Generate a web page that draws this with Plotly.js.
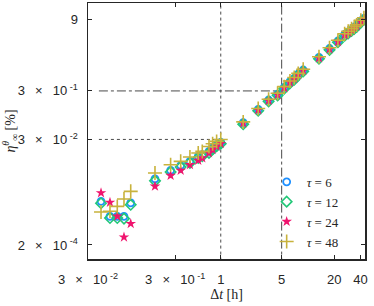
<!DOCTYPE html>
<html>
<head>
<meta charset="utf-8">
<script src="https://cdn.plot.ly/plotly-3.0.1.min.js"></script>
<style>html,body{margin:0;padding:0;background:#fff;}#chart{width:374px;height:306px;}</style>
</head>
<body>
<div id="chart"></div>
<script>
// Δt [h]
var dtLow = [0.0423, 0.0536, 0.065, 0.0776, 0.0927];
var dtMid = [0.176, 0.266, 0.347, 0.443, 0.552, 0.614, 0.733, 0.807, 0.897, 1.0];
var dtHigh = [1.81, 2.69, 3.54, 4.49, 5.35, 6.22, 6.97, 7.74, 8.83, 13.4, 17.7, 22.1, 26.4, 29.0, 31.7, 34.0, 36.2, 40.5, 43.9];

// η (%) per τ
var tau6Low  = [1.59e-3, 7.8e-4, 7.8e-4, 7.8e-4, 1.47e-3];
var tau12Low = [1.45e-3, 7.2e-4, 7.2e-4, 7.0e-4, 1.35e-3];
var tau24Low = [2.37e-3, 1.51e-3, 7.8e-4, 2.9e-4, 5.5e-4];
var tau48Low = [9.6e-4, 9.9e-4, 1.25e-3, 1.78e-3, 2.55e-3];

var tau6Mid  = [4.6e-3, 6.9e-3, 8.7e-3, 1.06e-2, 1.34e-2, 1.45e-2, 1.70e-2, 2.0e-2, 2.33e-2, 2.6e-2];
var tau12Mid = [4.2e-3, 6.4e-3, 8.1e-3, 9.8e-3, 1.24e-2, 1.35e-2, 1.58e-2, 1.86e-2, 2.17e-2, 2.45e-2];
var tau24Mid = [3.24e-3, 5.4e-3, 6.9e-3, 9.0e-3, 1.11e-2, 1.24e-2, 1.57e-2, 1.84e-2, 2.15e-2, 2.45e-2];
var tau48Mid = [6.1e-3, 9.0e-3, 1.06e-2, 1.30e-2, 1.57e-2, 1.70e-2, 2.15e-2, 2.45e-2, 2.73e-2, 3.0e-2];

var tau6High  = [0.0664, 0.125, 0.195, 0.259, 0.356, 0.465, 0.547, 0.67, 0.81, 1.47, 2.25, 3.21, 4.38, 4.92, 5.54, 6.1, 6.7, 8.3, 9.4];
var tau12High = [0.0620, 0.117, 0.183, 0.243, 0.334, 0.436, 0.513, 0.63, 0.76, 1.38, 2.11, 3.02, 4.12, 4.62, 5.21, 5.73, 6.3, 7.8, 8.8];
var tau24High = [0.0650, 0.122, 0.190, 0.252, 0.347, 0.453, 0.533, 0.65, 0.79, 1.43, 2.19, 3.12, 4.26, 4.79, 5.39, 5.93, 6.5, 8.1, 9.1];
var tau48High = [0.0690, 0.130, 0.202, 0.268, 0.368, 0.481, 0.566, 0.69, 0.84, 1.52, 2.33, 3.32, 4.53, 5.09, 5.73, 6.3, 6.9, 8.6, 9.7];

var seriesNames = ['<i>τ</i> = 6', '<i>τ</i> = 12', '<i>τ</i> = 24', '<i>τ</i> = 48'];

// reference lines
var refDotX = 1, refDotY = 0.03;
var refDashX = 5, refDashY = 0.3;
var refStartX = 0.04;

var xTickVals = [0.03, 0.3, 1, 5, 20, 40];
var xTickText = ['3 \u2002× \u200210<sup> -2</sup>', '3 \u2002× \u200210<sup> -1</sup>', '1', '5', '20', '40'];
var yTickVals = [2e-4, 3e-2, 3e-1, 9];
var yTickText = ['2 \u2002× \u200210<sup> -4</sup>', '3 \u2002× \u200210<sup> -2</sup>', '3 \u2002× \u200210<sup> -1</sup>', '9'];

var dt = dtLow.concat(dtMid, dtHigh);
var tau6 = tau6Low.concat(tau6Mid, tau6High);
var tau12 = tau12Low.concat(tau12Mid, tau12High);
var tau24 = tau24Low.concat(tau24Mid, tau24High);
var tau48 = tau48Low.concat(tau48Mid, tau48High);

var refColor = '#4a4a4a';
var traces = [
  {x:[refStartX, refDotX], y:[refDotY, refDotY], mode:'lines', line:{color:refColor, width:1, dash:'dot'}, showlegend:false, hoverinfo:'skip'},
  {x:[refDotX, refDotX], y:[1e-6, 1e3], mode:'lines', line:{color:refColor, width:1, dash:'dot'}, showlegend:false, hoverinfo:'skip'},
  {x:[refStartX, refDashX], y:[refDashY, refDashY], mode:'lines', line:{color:refColor, width:1, dash:'dashdot'}, showlegend:false, hoverinfo:'skip'},
  {x:[refDashX, refDashX], y:[1e-6, 1e3], mode:'lines', line:{color:refColor, width:1, dash:'dashdot'}, showlegend:false, hoverinfo:'skip'},
  {x:dt, y:tau6, mode:'markers', name:seriesNames[0], marker:{symbol:'circle-open', size:7, color:'#1E90FF', line:{width:1.8, color:'#1E90FF'}}},
  {x:dt, y:tau12, mode:'markers', name:seriesNames[1], marker:{symbol:'diamond-open', size:8, color:'#22C878', line:{width:1.6, color:'#22C878'}}},
  {x:dt, y:tau24, mode:'markers', name:seriesNames[2], marker:{symbol:'star', size:8, color:'#F0146E', line:{width:0}}},
  {x:dt, y:tau48, mode:'markers', name:seriesNames[3], marker:{symbol:'cross-thin-open', size:10, color:'#C8B23C', line:{width:1.6, color:'#C8B23C'}}}
];

var axisCommon = {
  showgrid:false, zeroline:false, showline:true, linecolor:'#262626', linewidth:1.5,
  mirror:'ticks', ticks:'inside', ticklen:4, tickwidth:1, tickcolor:'#262626',
  tickfont:{family:'Liberation Sans, Arial, sans-serif', size:13, color:'#262626'},
  automargin:false, tickmode:'array'
};

var layout = {
  width:374, height:306,
  margin:{l:88, r:9, t:3, b:47},
  paper_bgcolor:'#fff', plot_bgcolor:'#fff',
  xaxis: Object.assign({}, axisCommon, {
    type:'log', range:[-1.523, 1.655], tickvals:xTickVals, ticktext:xTickText,
    ticklabelstandoff:8,
    title:{text:'Δ<i>t</i> [h]', font:{family:'Liberation Serif, DejaVu Serif, serif', size:14, color:'#262626'}, standoff:1}
  }),
  yaxis: Object.assign({}, axisCommon, {
    type:'log', range:[-3.988, 1.290], tickvals:yTickVals, ticktext:yTickText,
    ticklabelstandoff:6,
    title:{text:'<i>η</i><sup><i>θ</i></sup><sub>∞</sub> [%]', font:{family:'Liberation Serif, DejaVu Serif, serif', size:14, color:'#262626'}, standoff:3}
  }),
  legend:{
    x:0.645, y:0.36, xanchor:'left', yanchor:'top',
    bgcolor:'rgba(0,0,0,0)', borderwidth:0,
    font:{family:'Liberation Serif, DejaVu Serif, serif', size:13, color:'#262626'},
    tracegroupgap:0, itemwidth:30
  },
  showlegend:true
};

Plotly.newPlot('chart', traces, layout, {displayModeBar:false, staticPlot:true});
</script>
</body>
</html>
